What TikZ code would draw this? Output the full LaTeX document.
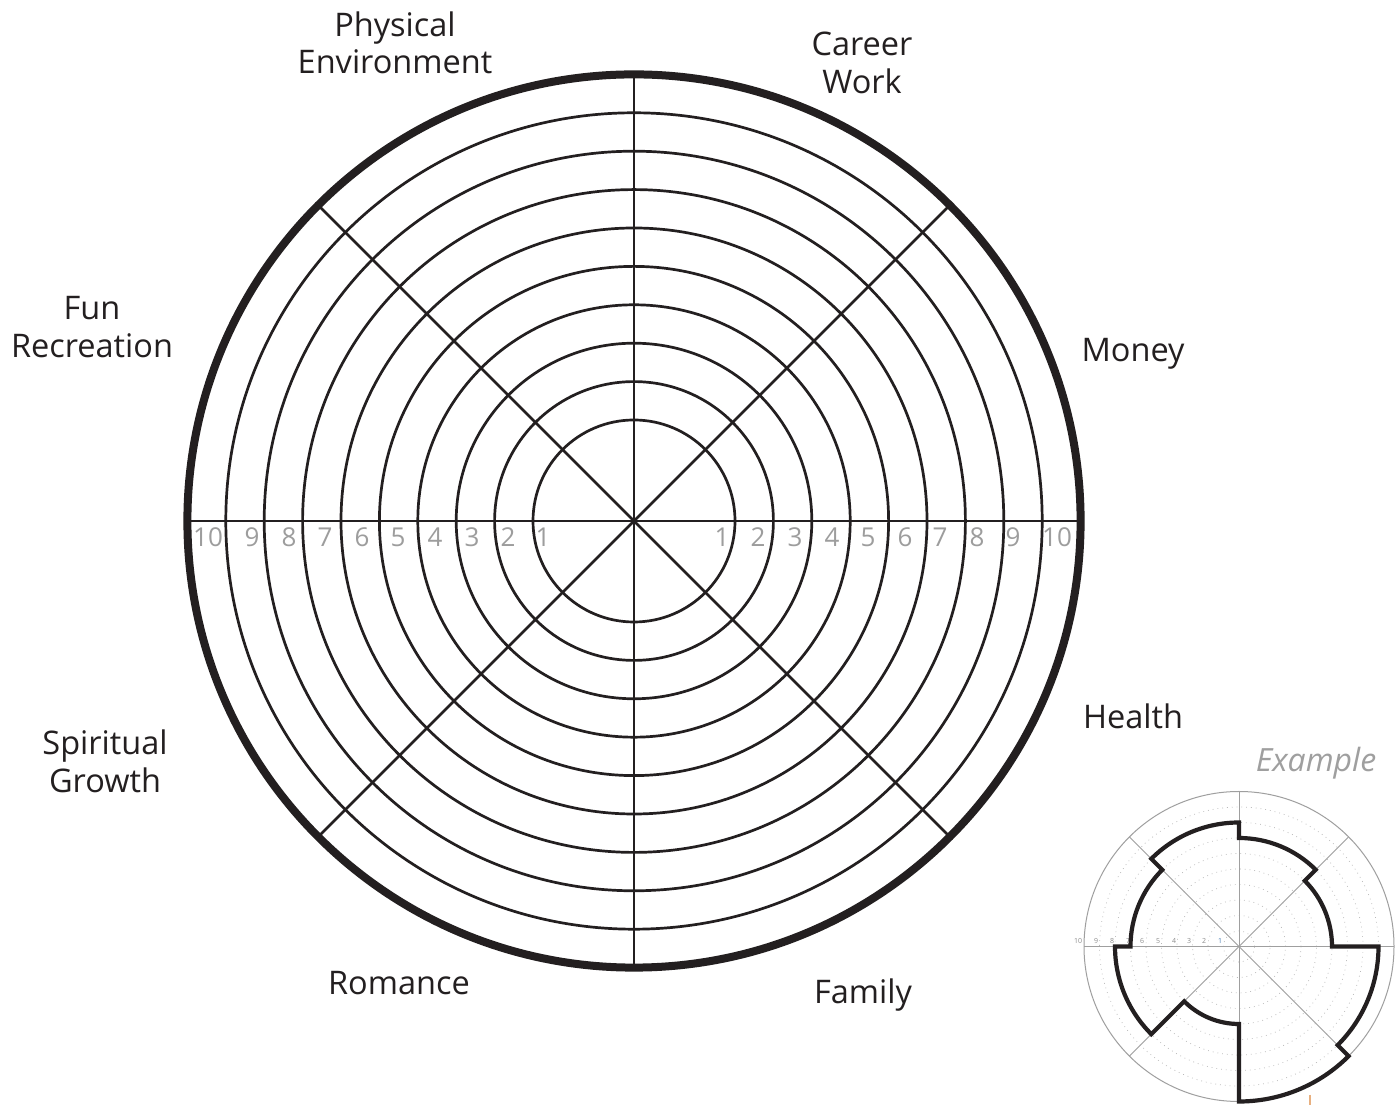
\documentclass[tikz,border=0pt]{standalone}
\usepackage{fontspec}
\setmainfont{Open Sans}
\definecolor{ink}{HTML}{231F20}
\definecolor{numgray}{HTML}{9D9D9D}
\definecolor{exgray}{HTML}{8C8C8C}
\definecolor{exblue}{HTML}{4A7FB5}
\definecolor{exorange}{HTML}{E8B080}
\newcommand{\twoline}[2]{\vtop{\baselineskip=37.3pt\halign{\hfil##\hfil\cr #1\cr #2\cr}}}
\begin{document}
\begin{tikzpicture}[x=1pt,y=1pt,
  ring/.style={line width=2.7pt, draw=ink},
  spoke/.style={line width=2.7pt, draw=ink},
  outerring/.style={line width=8pt, draw=ink},
  lab/.style={font=\fontsize{32.5}{37.3}\selectfont, text=ink, inner sep=0pt, anchor=base},
  num/.style={font=\fontsize{26}{30}\selectfont, text=numgray, inner sep=0pt, anchor=center},
  exdot/.style={draw=gray!55, line width=0.7pt, dash pattern=on 0.8pt off 4pt},
  exline/.style={draw=gray!75, line width=1pt},
  exnum/.style={font=\fontsize{7}{8}\selectfont, text=exgray, inner sep=0pt, anchor=center},
  exshape/.style={draw=ink, line width=4.2pt, line join=miter},
  extitle/.style={font=\fontsize{32}{36}\selectfont\itshape, text=gray!75, inner sep=0pt, anchor=base}]
\useasboundingbox (0,0) rectangle (1400,1105);
\fill[white] (0,0) rectangle (1400,1105);

% ---- main wheel ----
\coordinate (C) at (634,584);
\foreach \k in {1,...,9} \draw[ring] (C) circle[radius={62.6+38.4*\k}];
\path (C) ++(90:446.6) coordinate (T)
      (C) ++(270:446.6) coordinate (B)
      (C) ++(180:446.6) coordinate (L)
      (C) ++(0:446.6) coordinate (R)
      (C) ++(45:446.6) coordinate (NE)
      (C) ++(135:446.6) coordinate (NW)
      (C) ++(225:446.6) coordinate (SW)
      (C) ++(315:446.6) coordinate (SE);
\draw[spoke] (T) -- (B);
\draw[spoke] (L) -- (R);
\draw[spoke] (NE) -- (SW);
\draw[spoke] (NW) -- (SE);
\draw[outerring] (C) circle[radius=446.6];

% scale numbers
\foreach \n/\x in {10/208,9/252,8/289,7/325,6/362,5/398,4/435,3/472,2/508,1/543}
  \node[num] (nl\n) at (\x,568) {\n};
\foreach \n/\x in {1/722,2/758,3/795,4/832,5/868,6/905,7/940,8/977,9/1013,10/1057}
  \node[num] (nr\n) at (\x,568) {\n};

% category labels
\node[lab] (pe) at (395,1068.3) {\twoline{Physical}{Environment}};
\node[lab] (cw) at (862,1049) {\twoline{Career}{Work}};
\node[lab] (mo) at (1133,743) {Money};
\node[lab] (fr) at (92,785) {\twoline{Fun}{Recreation}};
\node[lab] (he) at (1133,376) {Health};
\node[lab] (sg) at (105,350) {\twoline{Spiritual}{Growth}};
\node[lab] (ro) at (399,110) {Romance};
\node[lab] (fa) at (863,101) {Family};

% ---- example wheel ----
\node[extitle] (ex) at (1316,333) {Example};
\begin{scope}[shift={(1239,158.5)}]
  \coordinate (E) at (0,0);
  \foreach \k in {1,...,9} \draw[exdot] (E) circle[radius={15.5*\k}];
  \path (E) ++(90:155) coordinate (eT)
        (E) ++(270:155) coordinate (eB)
        (E) ++(180:155) coordinate (eL)
        (E) ++(0:155) coordinate (eR)
        (E) ++(45:155) coordinate (eNE)
        (E) ++(135:155) coordinate (eNW)
        (E) ++(225:155) coordinate (eSW)
        (E) ++(315:155) coordinate (eSE);
  \draw[exline] (eT) -- (eB);
  \draw[exline] (eL) -- (eR);
  \draw[exline] (eNE) -- (eSW);
  \draw[exline] (eNW) -- (eSE);
  \draw[exline] (E) circle[radius=155];
  \foreach \n/\x in {10/-161,9/-143,8/-127,7/-111,6/-97,5/-81,4/-65,3/-50,2/-35}
    \node[exnum] (en\n) at (\x,5.5) {\n};
  \node[exnum, text=exblue] (en1) at (-19,5.5) {1};
  \draw[exshape] (90:124) arc[start angle=90, end angle=135, radius=124]
    -- (135:108.5) arc[start angle=135, end angle=180, radius=108.5]
    -- (180:124) arc[start angle=180, end angle=225, radius=124]
    -- (225:77.5) arc[start angle=225, end angle=270, radius=77.5]
    -- (270:155) arc[start angle=270, end angle=315, radius=155]
    -- (315:139.5) arc[start angle=315, end angle=360, radius=139.5]
    -- (0:93) arc[start angle=0, end angle=45, radius=93]
    -- (45:108.5) arc[start angle=45, end angle=90, radius=108.5]
    -- cycle;
\end{scope}
\coordinate (om1) at (1310,10);
\coordinate (om2) at (1310,0);
\draw[draw=exorange, line width=1.2pt] (om1) -- (om2);
\end{tikzpicture}
\end{document}
